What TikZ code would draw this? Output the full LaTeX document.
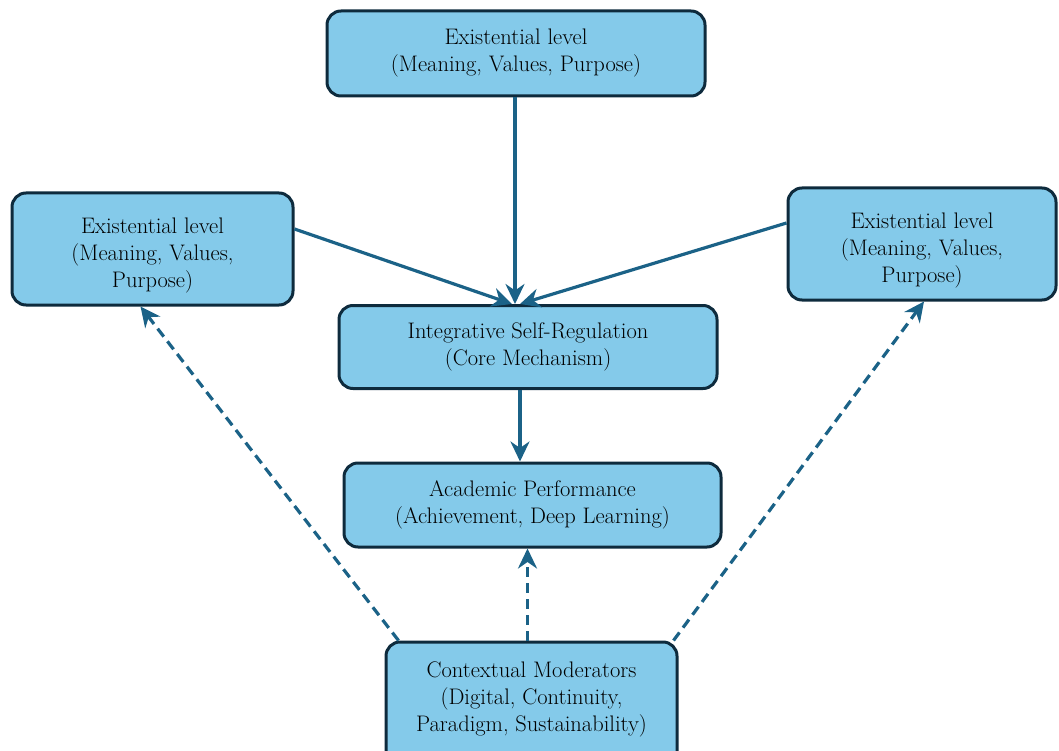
\documentclass[tikz,border=0pt]{standalone}
\usetikzlibrary{arrows.meta}
\definecolor{boxfill}{HTML}{84CAEA}
\definecolor{boxdraw}{HTML}{0E2B3D}
\definecolor{arrowc}{HTML}{1B6287}
\tikzset{
  box/.style={draw=boxdraw, fill=boxfill, line width=3pt, rounded corners=14pt,
    align=center, inner sep=0pt, font=\rmfamily\fontsize{22.5}{27}\selectfont, text=black},
  conn/.style={draw=arrowc, line width=3.2pt, -{Stealth[length=20pt,width=19pt]}},
  dconn/.style={conn, dash pattern=on 10pt off 6pt}
}
\begin{document}
\begin{tikzpicture}[x=1pt,y=-1pt]
\useasboundingbox (0,0) rectangle (1059,751);
\node[box, minimum width=378pt, minimum height=85pt] (top) at (516,53.5)
  {Existential level\\(Meaning, Values, Purpose)};
\node[box, minimum width=281pt, minimum height=112pt, text height=82pt] (left) at (152.5,249)
  {Existential level\\(Meaning, Values,\\Purpose)};
\node[box, minimum width=268pt, minimum height=112pt, text height=82pt] (right) at (922,244)
  {Existential level\\(Meaning, Values,\\Purpose)};
\node[box, minimum width=378pt, minimum height=83pt] (mid) at (528,347)
  {Integrative Self-Regulation\\(Core Mechanism)};
\node[box, minimum width=377pt, minimum height=84pt] (acad) at (532.5,505)
  {Academic Performance\\(Achievement, Deep Learning)};
\node[box, minimum width=291pt, minimum height=124pt, text depth=14pt] (bot) at (531.5,704)
  {Contextual Moderators\\(Digital, Continuity,\\Paradigm, Sustainability)};

\coordinate (topout) at ([xshift=-1pt]top.south);
\draw[conn] (topout) -- (topout |- mid.north);
\draw[conn] ([yshift=20pt]left.east) -- ([xshift=-16pt]mid.north);
\draw[conn] ([yshift=21pt]right.west) -- ([xshift=-8pt]mid.north);
\coordinate (midout) at ([xshift=-8pt]mid.south);
\draw[conn] (midout) -- (midout |- acad.north);
\draw[dconn] ([xshift=14pt]bot.north west) -- ([xshift=-12pt]left.south);
\coordinate (botmid) at ([xshift=-4pt]bot.north);
\draw[dconn] (botmid) -- (botmid |- acad.south);
\draw[dconn] ([xshift=-5pt]bot.north east) -- ([xshift=2pt]right.south);
\end{tikzpicture}
\end{document}
